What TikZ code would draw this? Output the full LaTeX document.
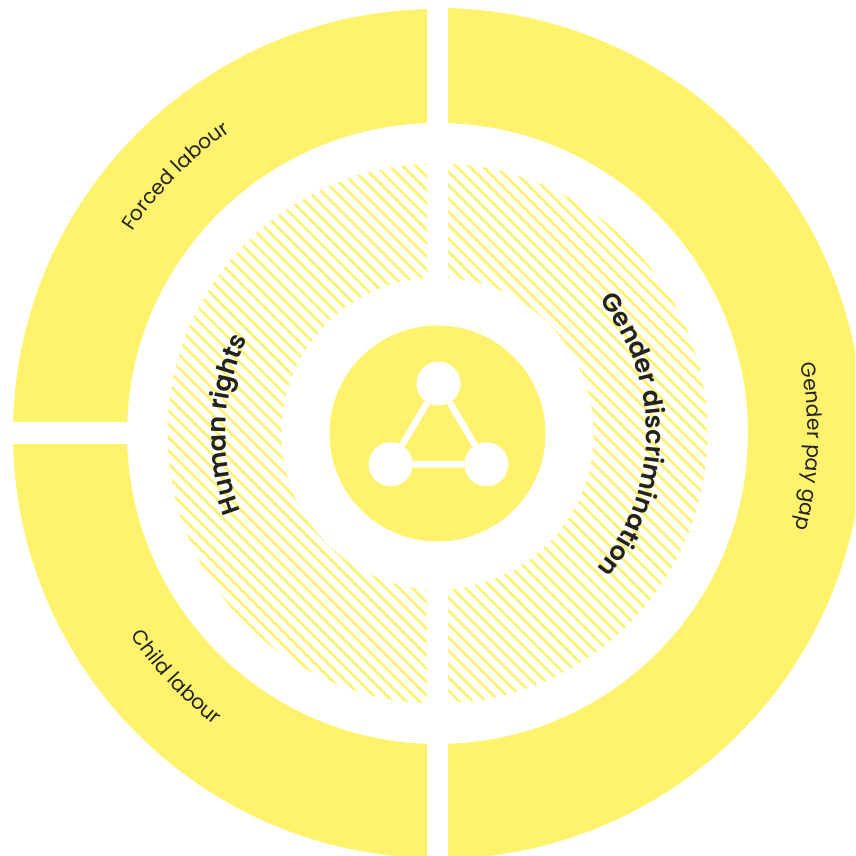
\documentclass[tikz,border=0pt]{standalone}
\usepackage{fontspec}
\setmainfont{Poppins}
\newfontfamily\innerfont{Poppins SemiBold}
\usetikzlibrary{decorations.text}
\definecolor{ringyellow}{HTML}{FFF36D}
\definecolor{labelink}{HTML}{222222}
\tikzset{
  ringfill/.style={fill=ringyellow,even odd rule},
  hatchline/.style={draw=ringyellow,line width=2.6pt},
  hubdot/.style={circle,fill=white,minimum size=44pt,inner sep=0pt},
  hubline/.style={draw=white,line width=6.5pt},
  outerlabel/.style={decorate,decoration={text along path,text align=center,
      text color=labelink,text={|\fontsize{20.3pt}{21pt}\selectfont|#1}}},
  innerlabel/.style={decorate,decoration={text along path,text align=center,
      text color=labelink,text={|\innerfont\fontsize{25.5pt}{26pt}\selectfont|#1}}},
}
\begin{document}
\begin{tikzpicture}[x=1pt,y=1pt]
  \useasboundingbox (0,0) rectangle (855,856);
  \clip (0,0) rectangle (855,856);
  \coordinate (hub) at (437.5,422.5);

  % outer ring
  \begin{scope}
    \clip (0,434) rectangle (427,856);
    \fill[ringfill] (hub) circle (424.5) (hub) circle (310.5);
  \end{scope}
  \begin{scope}
    \clip (0,0) rectangle (427,411);
    \fill[ringfill] (hub) circle (424.5) (hub) circle (310.5);
  \end{scope}
  \begin{scope}
    \clip (448,0) rectangle (855,856);
    \fill[ringfill] (hub) circle (425.5) (hub) circle (310.5);
  \end{scope}

  % hatched ring
  \begin{scope}
    \clip (0,0) rectangle (427,856) (448,0) rectangle (855,856);
    \clip (hub) circle (270);
    \foreach \hatchoff in {-405.7,-392.4,...,420}
      \draw[hatchline] ([shift={(\hatchoff-300,300)}]hub) -- ([shift={(\hatchoff+300,-300)}]hub);
  \end{scope}
  \fill[white] (hub) circle (156);

  % centre
  \fill[ringyellow] (hub) circle (108);
  \node[hubdot] (dottop) at (438.5,472.5) {};
  \node[hubdot] (dotleft) at (390.7,391.7) {};
  \node[hubdot] (dotright) at (486.3,391.7) {};
  \draw[hubline] (dottop) -- (dotleft) -- (dotright) -- (dottop);

  % labels
  \path[outerlabel={Forced labour}] ([shift={(160:366)}]hub) arc[start angle=160,end angle=111,radius=366];
  \path[outerlabel={Child labour}] ([shift={(200:367)}]hub) arc[start angle=200,end angle=246,radius=367];
  \path[outerlabel={Gender pay gap}] ([shift={(23:370)}]hub) arc[start angle=23,end angle=-27,radius=370];
  \path[innerlabel={Human rights}] ([shift={(214:212)}]hub) arc[start angle=214,end angle=141,radius=212];
  \path[innerlabel={Gender discrimination}] ([shift={(50:209)}]hub) arc[start angle=50,end angle=-51,radius=209];
\end{tikzpicture}
\end{document}
